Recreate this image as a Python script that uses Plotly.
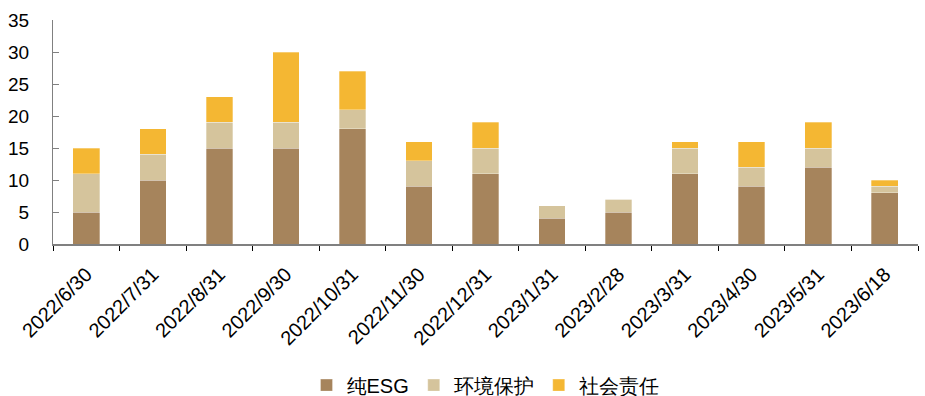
import plotly.graph_objects as go

categories = ["2022/6/30", "2022/7/31", "2022/8/31", "2022/9/30", "2022/10/31", "2022/11/30",
              "2022/12/31", "2023/1/31", "2023/2/28", "2023/3/31", "2023/4/30", "2023/5/31", "2023/6/18"]
pure_esg = [5, 10, 15, 15, 18, 9, 11, 4, 5, 11, 9, 12, 8]
env_protect = [6, 4, 4, 4, 3, 4, 4, 2, 2, 4, 3, 3, 1]
social_resp = [4, 4, 4, 11, 6, 3, 4, 0, 0, 1, 4, 4, 1]

series = [("纯ESG", pure_esg, "#A6845C"),
          ("环境保护", env_protect, "#D5C49C"),
          ("社会责任", social_resp, "#F4B733")]

fig = go.Figure()
for name, vals, color in series:
    fig.add_trace(go.Bar(x=categories, y=vals, name=name,
                         marker=dict(color=color, line=dict(color="rgba(255,255,255,0.5)", width=0.6))))

FONT = "Liberation Sans"
fig.update_layout(
    barmode="stack",
    bargap=0.6,
    width=925, height=396,
    margin=dict(l=53, r=7, t=20, b=152, autoexpand=False),
    paper_bgcolor="white", plot_bgcolor="white",
    font=dict(family=FONT, size=18, color="#000000"),
    legend=dict(orientation="h", x=0.5, xanchor="center", y=-0.63, yanchor="middle",
                font=dict(size=20, family=FONT), traceorder="normal",
                itemwidth=30),
    showlegend=True,
)
fig.update_xaxes(type="category", tickangle=-45, showline=True, linecolor="#808080", linewidth=1.5,
                 ticks="outside", tickson="boundaries", ticklen=5, tickcolor="#000000",
                 ticklabelstandoff=9,
                 tickfont=dict(size=20, family=FONT), showgrid=False, automargin=False)
fig.update_yaxes(range=[0, 35], dtick=5, showline=True, linecolor="#808080", linewidth=1.2,
                 ticks="inside", ticklen=6, tickcolor="#808080", tickwidth=1.2, showgrid=False,
                 ticksuffix="\u2002\u2002",
                 tickfont=dict(size=19, family=FONT), zeroline=False, automargin=False)

fig.write_html("out.html")
